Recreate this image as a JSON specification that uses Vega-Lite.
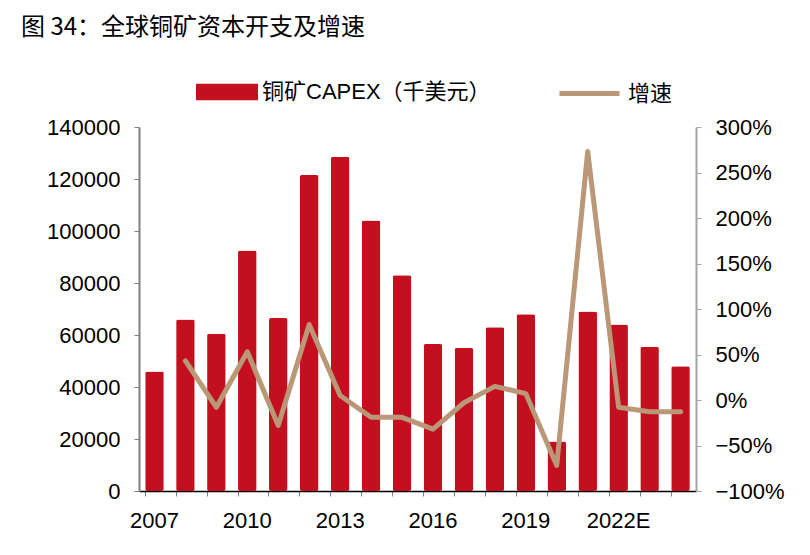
{
  "$schema": "https://vega.github.io/schema/vega-lite/v6.json",
  "width": 557,
  "height": 364,
  "autosize": "none",
  "padding": {"left": 139, "top": 127, "right": 114, "bottom": 64},
  "background": "white",
  "title": {
    "text": "图 34：全球铜矿资本开支及增速",
    "anchor": "start",
    "frame": "group",
    "dx": -118,
    "offset": 21,
    "font": "Noto Sans CJK SC",
    "fontSize": 24,
    "fontWeight": "normal",
    "color": "#000000"
  },
  "data": {
    "values": [
      {"year": "2007", "capex": 46000, "growth": null},
      {"year": "2008", "capex": 66000, "growth": 0.43},
      {"year": "2009", "capex": 60500, "growth": -0.08},
      {"year": "2010", "capex": 92500, "growth": 0.53},
      {"year": "2011", "capex": 66500, "growth": -0.28},
      {"year": "2012", "capex": 121500, "growth": 0.83},
      {"year": "2013", "capex": 128500, "growth": 0.05},
      {"year": "2014", "capex": 104000, "growth": -0.19},
      {"year": "2015", "capex": 83000, "growth": -0.19},
      {"year": "2016", "capex": 56500, "growth": -0.32},
      {"year": "2017", "capex": 55000, "growth": -0.03},
      {"year": "2018", "capex": 63000, "growth": 0.15},
      {"year": "2019", "capex": 68000, "growth": 0.07},
      {"year": "2020", "capex": 19000, "growth": -0.72},
      {"year": "2021", "capex": 69000, "growth": 2.73},
      {"year": "2022E", "capex": 64000, "growth": -0.08},
      {"year": "2023E", "capex": 55500, "growth": -0.13},
      {"year": "2024E", "capex": 48000, "growth": -0.13}
    ]
  },
  "encoding": {
    "x": {
      "field": "year",
      "type": "ordinal",
      "sort": null,
      "scale": {"paddingInner": 0.4, "paddingOuter": 0.2},
      "axis": {
        "title": null,
        "labelAngle": 0,
        "labelExpr": "indexof(['2007','2010','2013','2016','2019','2022E'], datum.value) >= 0 ? datum.label : ''",
        "labelFont": "Liberation Sans",
        "labelFontSize": 22,
        "labelColor": "#000000",
        "labelPadding": 14,
        "bandPosition": 0,
        "tickSize": 5,
        "tickColor": "#808080",
        "domainColor": "#000000",
        "domainWidth": 1.5
      }
    }
  },
  "layer": [
    {
      "mark": {"type": "bar", "cornerRadius": 2},
      "encoding": {
        "y": {
          "field": "capex",
          "type": "quantitative",
          "scale": {"domain": [0, 140000], "nice": false},
          "axis": {
            "title": null,
            "values": [0, 20000, 40000, 60000, 80000, 100000, 120000, 140000],
            "format": "d",
            "grid": false,
            "labelFont": "Liberation Sans",
            "labelFontSize": 22,
            "labelColor": "#000000",
            "labelPadding": 14,
            "tickSize": 5,
            "tickColor": "#808080",
            "domainColor": "#808080",
            "domainWidth": 2
          }
        },
        "fill": {
          "datum": "铜矿CAPEX（千美元）",
          "scale": {"range": ["#C40F1E"]},
          "legend": {
            "title": null,
            "orient": "none",
            "legendX": 57,
            "legendY": -66,
            "symbolType": "M-1,-0.27L1,-0.27L1,0.27L-1,0.27Z",
            "symbolSize": 3844,
            "symbolStrokeWidth": 0,
            "labelFont": "Liberation Sans, Noto Sans CJK SC",
            "labelFontSize": 22,
            "labelLimit": 400,
            "labelColor": "#000000",
            "labelOffset": 4
          }
        }
      }
    },
    {
      "mark": {"type": "line", "strokeWidth": 5, "strokeCap": "round", "strokeJoin": "round"},
      "encoding": {
        "y": {
          "field": "growth",
          "type": "quantitative",
          "scale": {"domain": [-1, 3], "nice": false},
          "axis": {
            "title": null,
            "orient": "right",
            "values": [-1, -0.5, 0, 0.5, 1, 1.5, 2, 2.5, 3],
            "format": ".0%",
            "grid": false,
            "labelFont": "Liberation Sans",
            "labelFontSize": 22,
            "labelColor": "#000000",
            "labelPadding": 14,
            "tickSize": 5,
            "tickColor": "#A6A6A6",
            "domainColor": "#A6A6A6",
            "domainWidth": 2
          }
        },
        "stroke": {
          "datum": "增速",
          "scale": {"range": ["#B99777"]},
          "legend": {
            "title": null,
            "orient": "none",
            "legendX": 418,
            "legendY": -66,
            "symbolType": "M-1,0L1,0",
            "symbolSize": 3600,
            "symbolStrokeWidth": 5,
            "labelFont": "Liberation Sans, Noto Sans CJK SC",
            "labelFontSize": 22,
            "labelColor": "#000000",
            "labelOffset": 6
          }
        }
      }
    }
  ],
  "resolve": {"scale": {"y": "independent"}},
  "config": {"view": {"stroke": null}}
}
